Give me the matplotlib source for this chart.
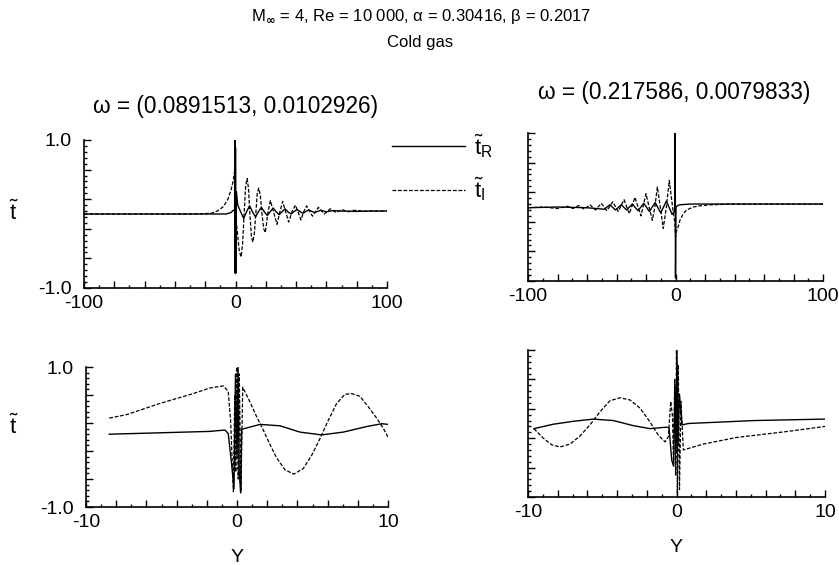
import numpy as np
import matplotlib
matplotlib.use('Agg')
import matplotlib.pyplot as plt
from matplotlib.ticker import FixedLocator, FixedFormatter

plt.rcParams['font.family'] = ['Liberation Sans', 'DejaVu Sans']
plt.rcParams['mathtext.fontset'] = 'custom'
plt.rcParams['mathtext.rm'] = 'Liberation Sans'
plt.rcParams['mathtext.it'] = 'Liberation Sans'
plt.rcParams['mathtext.bf'] = 'Liberation Sans:bold'

# ---- values ----
# top left, omega = (0.0891513, 0.0102926), Y in [-100, 100]
tl_r_y = [-100, -20, -6, -3, -1.5, -0.6, -0.4, -0.2, 0.0, 0.3, 0.6, 1.5, 3.4, 5.4, 7.3, 9.3, 11.2,
          13.2, 15.1, 17.1, 19.0, 21.0, 22.9, 24.9, 26.8, 28.8, 30.7, 32.7, 34.6, 36.6, 38.5,
          40.5, 42.4, 44.4, 48.3, 52.2, 56.1, 60.0, 63.9, 70, 80, 90, 100]
tl_r_t = [0.0, 0.0, 0.0, 0.02, 0.05, 0.05, 1.0, -0.8, 0.9, -0.8, 0.3, 0.12, 0.03, -0.06, 0.03, 0.11,
          0.03, -0.04, 0.03, 0.09, 0.03, -0.02, 0.03, 0.08, 0.03, -0.01, 0.03, 0.07, 0.03, 0.0, 0.03,
          0.06, 0.035, 0.01, 0.055, 0.02, 0.05, 0.03, 0.045, 0.04, 0.035, 0.04, 0.04]
tl_i_y = [-100, -30, -20, -16, -12, -8, -5, -3, -1.5, -0.5, 0.5, 1.5, 2.5, 3.7, 4.7, 5.7, 6.7, 7.7,
          8.6, 9.5, 10.5, 11.4, 12.4, 13.4, 14.3, 15.3, 16.4, 17.5, 18.6, 19.7, 21.4, 23.0, 25.2,
          27.4, 29.2, 31.1, 33.1, 35.1, 37.3, 39.5, 41.3, 43.2, 45.0, 46.9, 50.8, 54.7, 58.6, 62.5,
          66.4, 70.3, 74.2, 78, 85, 100]
tl_i_t = [0.0, 0.0, 0.005, 0.01, 0.04, 0.1, 0.2, 0.32, 0.45, 0.6, -0.1, -0.3, -0.5, -0.58, -0.4,
          0.0, 0.38, 0.48, 0.34, 0.0, -0.3, -0.38, -0.27, 0.0, 0.27, 0.35, 0.25, 0.0, -0.2, -0.25,
          0.02, 0.18, 0.02, -0.14, 0.02, 0.17, 0.03, -0.11, 0.03, 0.12, 0.03, -0.08, 0.03, 0.11,
          -0.03, 0.09, 0.0, 0.07, 0.02, 0.06, 0.03, 0.05, 0.04, 0.04]

# top right, omega = (0.217586, 0.0079833)
tr_r_y = [-100, -80, -60, -48.3, -44.5, -40.7, -36.8, -33.1, -29.3, -25.4, -21.5, -17.7, -13.8,
          -10.0, -6.2, -2.3, -0.5, -0.2, 0.0, 0.3, 1.5, 3, 10, 100]
tr_r_t = [-0.01, 0.0, -0.01, -0.03, 0.03, -0.04, 0.03, -0.04, 0.04, -0.05, 0.05, -0.06, 0.06,
          -0.08, 0.08, -0.1, -0.05, 1.0, -0.96, 0.0, 0.02, 0.03, 0.04, 0.04]
tr_i_y = [-100, -90, -80, -73.5, -69.6, -65.7, -61.9, -58.0, -54.2, -50.3, -46.5, -42.6, -38.8,
          -34.9, -31.3, -27.5, -23.4, -20.0, -17.9, -15.7, -14.0, -12.3, -10.3, -8.3, -6.2, -4.2,
          -2.0, -0.5, 0.0, 0.5, 1.5, 3.0, 5.3, 7.6, 12, 18, 24.4, 40, 100]
tr_i_t = [-0.01, 0.0, -0.02, 0.01, -0.02, 0.02, -0.03, 0.03, -0.04, 0.05, -0.05, 0.07, -0.06,
          0.1, -0.09, 0.13, -0.12, 0.18, 0.0, -0.18, 0.0, 0.27, 0.0, -0.29, 0.0, 0.36, 0.0, -0.2,
          -0.4, -0.33, -0.29, -0.18, -0.09, -0.04, 0.0, 0.02, 0.03, 0.04, 0.04]

# bottom left, same mode, Y in [-10, 10]
bl_r_y = [-8.46, -5.1, -1.8, -0.8, -0.58, -0.35, -0.2, -0.1, 0.0, 0.07, 0.15, 0.24, 0.31, 1.52,
          2.85, 4.17, 5.6, 7.04, 8.6, 9.6, 10.0]
bl_r_t = [0.04, 0.06, 0.08, 0.1, 0.05, -0.4, -0.74, 0.9, -0.3, 1.0, -0.5, -0.8, 0.11, 0.18, 0.16,
          0.07, 0.03, 0.07, 0.15, 0.19, 0.18]
bl_i_y = [-8.46, -7.3, -6.2, -5.1, -4.0, -2.9, -1.8, -0.9, -0.58, -0.42, -0.24, -0.15, -0.08, 0.0,
          0.08, 0.15, 0.26, 0.38, 0.86, 1.3, 1.74, 2.19, 2.63, 3.18, 3.77, 4.39, 4.95, 5.5, 6.05,
          6.6, 7.15, 7.6, 8.15, 8.7, 9.25, 9.7, 10.0]
bl_i_t = [0.27, 0.32, 0.4, 0.48, 0.55, 0.62, 0.7, 0.73, 0.65, 0.22, -0.78, 0.6, -0.5, 1.0, -0.6,
          0.9, -0.78, 0.71, 0.5, 0.29, 0.1, -0.11, -0.3, -0.47, -0.53, -0.45, -0.26, -0.02, 0.24,
          0.48, 0.61, 0.62, 0.58, 0.43, 0.27, 0.12, 0.0]

# bottom right, second mode
br_r_y = [-9.6, -8.3, -6.95, -5.6, -4.25, -2.9, -1.78, -0.66, -0.5, -0.32, -0.2, -0.1, -0.03,
          0.03, 0.1, 0.2, 0.37, 0.8, 5.2, 10.0]
br_r_t = [-0.07, -0.01, 0.03, 0.06, 0.04, -0.03, -0.07, -0.05, -0.06, -0.5, -0.58, 0.5, -0.4,
          1.0, -0.3, 0.4, -0.02, 0.0, 0.04, 0.06]
br_i_y = [-9.6, -8.97, -8.4, -7.85, -7.17, -6.5, -5.83, -5.15, -4.48, -3.8, -3.13, -2.46, -1.78,
          -1.22, -0.77, -0.55, -0.39, -0.27, -0.2, -0.12, -0.06, 0.0, 0.06, 0.12, 0.2, 0.3, 0.46,
          1.8, 4.05, 7.4, 10.0]
br_i_t = [-0.07, -0.2, -0.29, -0.32, -0.28, -0.17, -0.02, 0.16, 0.31, 0.35, 0.32, 0.21, 0.02,
          -0.16, -0.25, -0.18, 0.3, 0.1, -0.55, 0.6, -0.7, 1.0, -0.97, 0.8, -0.9, 0.3, -0.36,
          -0.28, -0.19, -0.11, -0.04]

titles = ['ω = (0.0891513, 0.0102926)', 'ω = (0.217586, 0.0079833)']

fig = plt.figure(figsize=(8.39, 5.65), dpi=100)
W, H = 839, 565


def box(x0, y0, x1, y1):
    return [x0 / W, 1 - y1 / H, (x1 - x0) / W, (y1 - y0) / H]


ax_tl = fig.add_axes(box(84, 140, 387, 288))
ax_tr = fig.add_axes(box(528, 133, 823, 281))
ax_bl = fig.add_axes(box(86, 367, 388, 507))
ax_br = fig.add_axes(box(528, 350, 825, 497))

dash = dict(color='black', lw=0.9, dashes=(3, 1.4))
solid = dict(color='black', lw=1.0)

ax_tl.plot(tl_r_y, tl_r_t, **solid)
ax_tl.plot(tl_i_y, tl_i_t, **dash)
ax_tr.plot(tr_r_y, tr_r_t, **solid)
ax_tr.plot(tr_i_y, tr_i_t, **dash)
ax_bl.plot(bl_r_y, bl_r_t, **solid)
ax_bl.plot(bl_i_y, bl_i_t, **dash)
ax_br.plot(br_r_y, br_r_t, **solid)
ax_br.plot(br_i_y, br_i_t, **dash)


def style(ax, span, left_labels):
    for s in ['top', 'right']:
        ax.spines[s].set_visible(False)
    for s in ['left', 'bottom']:
        ax.spines[s].set_linewidth(1.2)
    ax.set_xlim(-span, span)
    ax.set_ylim(-1, 1)
    xt = np.linspace(-span, span, 11)
    ax.xaxis.set_major_locator(FixedLocator(xt))
    ax.xaxis.set_major_formatter(FixedFormatter(
        ['%d' % -span] + [''] * 4 + ['0'] + [''] * 4 + ['%d' % span]))
    ax.xaxis.set_minor_locator(FixedLocator(np.linspace(-span, span, 21)))
    yt = [-1.0, -0.6, -0.2, 0.2, 0.6, 1.0]
    ax.yaxis.set_major_locator(FixedLocator(yt))
    if left_labels:
        ax.yaxis.set_major_formatter(FixedFormatter(['-1.0', '', '', '', '', '1.0']))
    else:
        ax.yaxis.set_major_formatter(FixedFormatter([''] * 6))
    ax.yaxis.set_minor_locator(FixedLocator(np.linspace(-1, 1, 26)))
    ax.tick_params(which='both', direction='in', width=1.0, labelsize=14)
    ax.tick_params(which='major', length=5)
    ax.tick_params(which='minor', length=2.5)
    ax.tick_params(axis='x', pad=5)
    ax.tick_params(axis='y', pad=9)


style(ax_tl, 100, True)
style(ax_tr, 100, False)
style(ax_bl, 10, True)
style(ax_br, 10, False)

ax_bl.set_xlabel('Y', fontsize=14, labelpad=13)
ax_br.set_xlabel('Y', fontsize=14, labelpad=13)

fig.text(236 / W, 1 - 106 / H, titles[0], ha='center', va='center', fontsize=16.3)
fig.text(674 / W, 1 - 93 / H, titles[1], ha='center', va='center', fontsize=16.3)
fig.text(14 / W, 1 - 213 / H, r'$\tilde{t}$', ha='center', va='center', fontsize=16)
fig.text(14 / W, 1 - 427 / H, r'$\tilde{t}$', ha='center', va='center', fontsize=16)

fig.text(421 / W, 1 - 17 / H, r'M$_{\mathbf{\infty}}$ = 4, Re = 10 000, α = 0.30416, β = 0.2017',
         ha='center', va='center', fontsize=12, math_fontfamily='dejavusans')
fig.text(420 / W, 1 - 43 / H, 'Cold gas', ha='center', va='center', fontsize=12)

h_r, = ax_tl.plot([], [], **solid)
h_i, = ax_tl.plot([], [], **dash)
fig.legend([h_r, h_i], [r'$\tilde{t}_{R}$', r'$\tilde{t}_{I}$'],
           loc='upper left', bbox_to_anchor=(392 / W, 1 - 132 / H), frameon=False,
           fontsize=16, handlelength=3.3, handletextpad=0.4, labelspacing=0.7,
           borderpad=0, borderaxespad=0)

fig.savefig('out.png', dpi=100)
